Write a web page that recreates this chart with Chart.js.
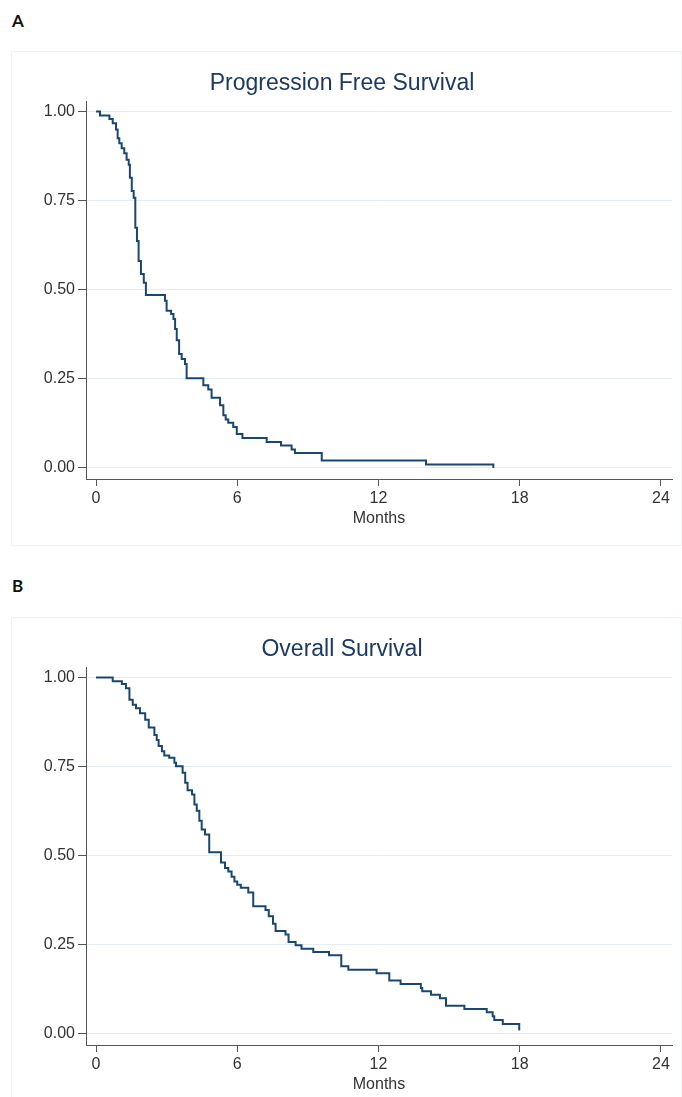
<!DOCTYPE html>
<html lang="en">
<head>
  <meta charset="UTF-8">
  <title>Survival curves</title>
  <script src="https://cdn.jsdelivr.net/npm/chart.js"></script>
  <style>
    body { margin: 0; background: #fff; width: 682px; height: 1097px; overflow: hidden; position: relative; font-family: "Liberation Sans", Arial, sans-serif; }
    .tag { position: absolute; left: 12px; font: bold 17px Lato, "Liberation Sans", sans-serif; color: #111; }
    .frame { position: absolute; left: 11px; width: 669px; border: 1px solid #eef3f6; }
    canvas { display: block; }
  </style>
</head>
<body>
  <div class="tag" style="top: 10px;">A</div>
  <div class="frame" style="top: 51px; height: 493px;"><canvas id="pfsChart" width="668" height="493"></canvas></div>
  <div class="tag" style="top: 575px;">B</div>
  <div class="frame" style="top: 617px; height: 500px;"><canvas id="osChart" width="668" height="493"></canvas></div>

  <script>
    // tick labels
    const monthTicks = [0, 6, 12, 18, 24];
    const survTicks = [0, 0.25, 0.5, 0.75, 1];

    // progression free survival (month of each step, survival after the step)
    const pfsMonths = [0, 0.17, 0.57, 0.71, 0.85, 0.92, 0.99, 1.09, 1.20, 1.30,
      1.39, 1.44, 1.52, 1.60, 1.67, 1.74, 1.81, 1.91, 2.03, 2.12,
      2.93, 3.00, 3.19, 3.29, 3.36, 3.43, 3.53, 3.64, 3.78, 3.85,
      4.56, 4.77, 4.91, 5.27, 5.41, 5.51, 5.62, 5.83, 5.98, 6.22,
      7.25, 7.86, 8.31, 8.45, 9.59, 14.02, 16.88];
    const pfsSurv = [1.0, 0.989, 0.979, 0.967, 0.95, 0.925, 0.911, 0.897, 0.883, 0.865,
      0.851, 0.814, 0.777, 0.758, 0.674, 0.637, 0.581, 0.544, 0.52, 0.485,
      0.469, 0.441, 0.432, 0.418, 0.39, 0.358, 0.32, 0.306, 0.292, 0.252,
      0.232, 0.22, 0.197, 0.176, 0.148, 0.136, 0.127, 0.115, 0.095, 0.084,
      0.073, 0.063, 0.052, 0.042, 0.021, 0.010, 0.0];

    // overall survival
    const osMonths = [0, 0.71, 1.10, 1.27, 1.42, 1.56, 1.70, 1.87, 2.09, 2.24,
      2.48, 2.58, 2.66, 2.80, 2.90, 3.11, 3.33, 3.40, 3.68, 3.79,
      3.89, 4.08, 4.18, 4.28, 4.39, 4.49, 4.63, 4.81, 5.31, 5.48,
      5.62, 5.76, 5.88, 6.00, 6.15, 6.47, 6.68, 7.20, 7.34, 7.52,
      7.63, 8.05, 8.18, 8.48, 8.73, 9.23, 9.90, 10.42, 10.72, 11.92,
      12.46, 12.94, 13.80, 13.86, 14.23, 14.61, 14.87, 15.65, 16.60, 16.85,
      16.92, 17.28, 17.98];
    const osSurv = [1.0, 0.99, 0.982, 0.97, 0.938, 0.924, 0.914, 0.9, 0.882, 0.86,
      0.839, 0.825, 0.808, 0.793, 0.781, 0.775, 0.761, 0.751, 0.733, 0.705,
      0.684, 0.672, 0.644, 0.626, 0.598, 0.574, 0.56, 0.51, 0.481, 0.466,
      0.456, 0.441, 0.428, 0.419, 0.41, 0.397, 0.358, 0.348, 0.33, 0.309,
      0.289, 0.279, 0.258, 0.249, 0.239, 0.23, 0.221, 0.19, 0.18, 0.17,
      0.15, 0.14, 0.129, 0.12, 0.11, 0.10, 0.079, 0.07, 0.061, 0.05,
      0.039, 0.028, 0.01];

    const axisColor = '#555';
    const gridColor = '#e4eef2';
    const lineColor = '#1a476f';

    function drawCurve(id, title, months, surv) {
      const points = months.map((m, i) => ({ x: m, y: surv[i] }));
      new Chart(document.getElementById(id), {
        type: 'line',
        data: {
          datasets: [{
            data: points,
            stepped: 'before',
            borderColor: lineColor,
            borderWidth: 2,
            pointRadius: 0,
            fill: false
          }]
        },
        options: {
          responsive: false,
          animation: false,
          layout: { padding: { left: 0, right: 8, top: 0, bottom: 0 } },
          plugins: {
            legend: { display: false },
            tooltip: { enabled: false },
            title: {
              display: true,
              text: title,
              color: '#1c3a63',
              font: { family: 'Liberation Sans', size: 23, weight: 'normal' },
              padding: { top: 18, bottom: 4 }
            }
          },
          scales: {
            x: {
              type: 'linear',
              min: -0.425,
              max: 24.47,
              afterBuildTicks: s => { s.ticks = monthTicks.map(v => ({ value: v })); },
              afterFit: s => { s.height = 66; },
              border: { display: true, color: axisColor, width: 1 },
              grid: { drawOnChartArea: false, drawTicks: true, tickLength: 7, tickColor: axisColor },
              ticks: { color: '#333', padding: 3, maxRotation: 0, font: { family: 'Liberation Sans', size: 16 } },
              title: {
                display: true,
                text: 'Months',
                color: '#333',
                font: { family: 'Liberation Sans', size: 16 },
                padding: { top: 0, bottom: 17 }
              }
            },
            y: {
              type: 'linear',
              min: -0.031,
              max: 1.028,
              afterBuildTicks: s => { s.ticks = survTicks.map(v => ({ value: v })); },
              afterFit: s => { s.width = 74; },
              border: { display: true, color: axisColor, width: 1 },
              grid: { color: gridColor, lineWidth: 1, drawTicks: true, tickLength: 8, tickColor: axisColor },
              ticks: {
                color: '#333',
                padding: 3,
                font: { family: 'Liberation Sans', size: 16 },
                callback: v => v.toFixed(2)
              }
            }
          }
        }
      });
    }

    drawCurve('pfsChart', 'Progression Free Survival', pfsMonths, pfsSurv);
    drawCurve('osChart', 'Overall Survival', osMonths, osSurv);
  </script>
</body>
</html>
